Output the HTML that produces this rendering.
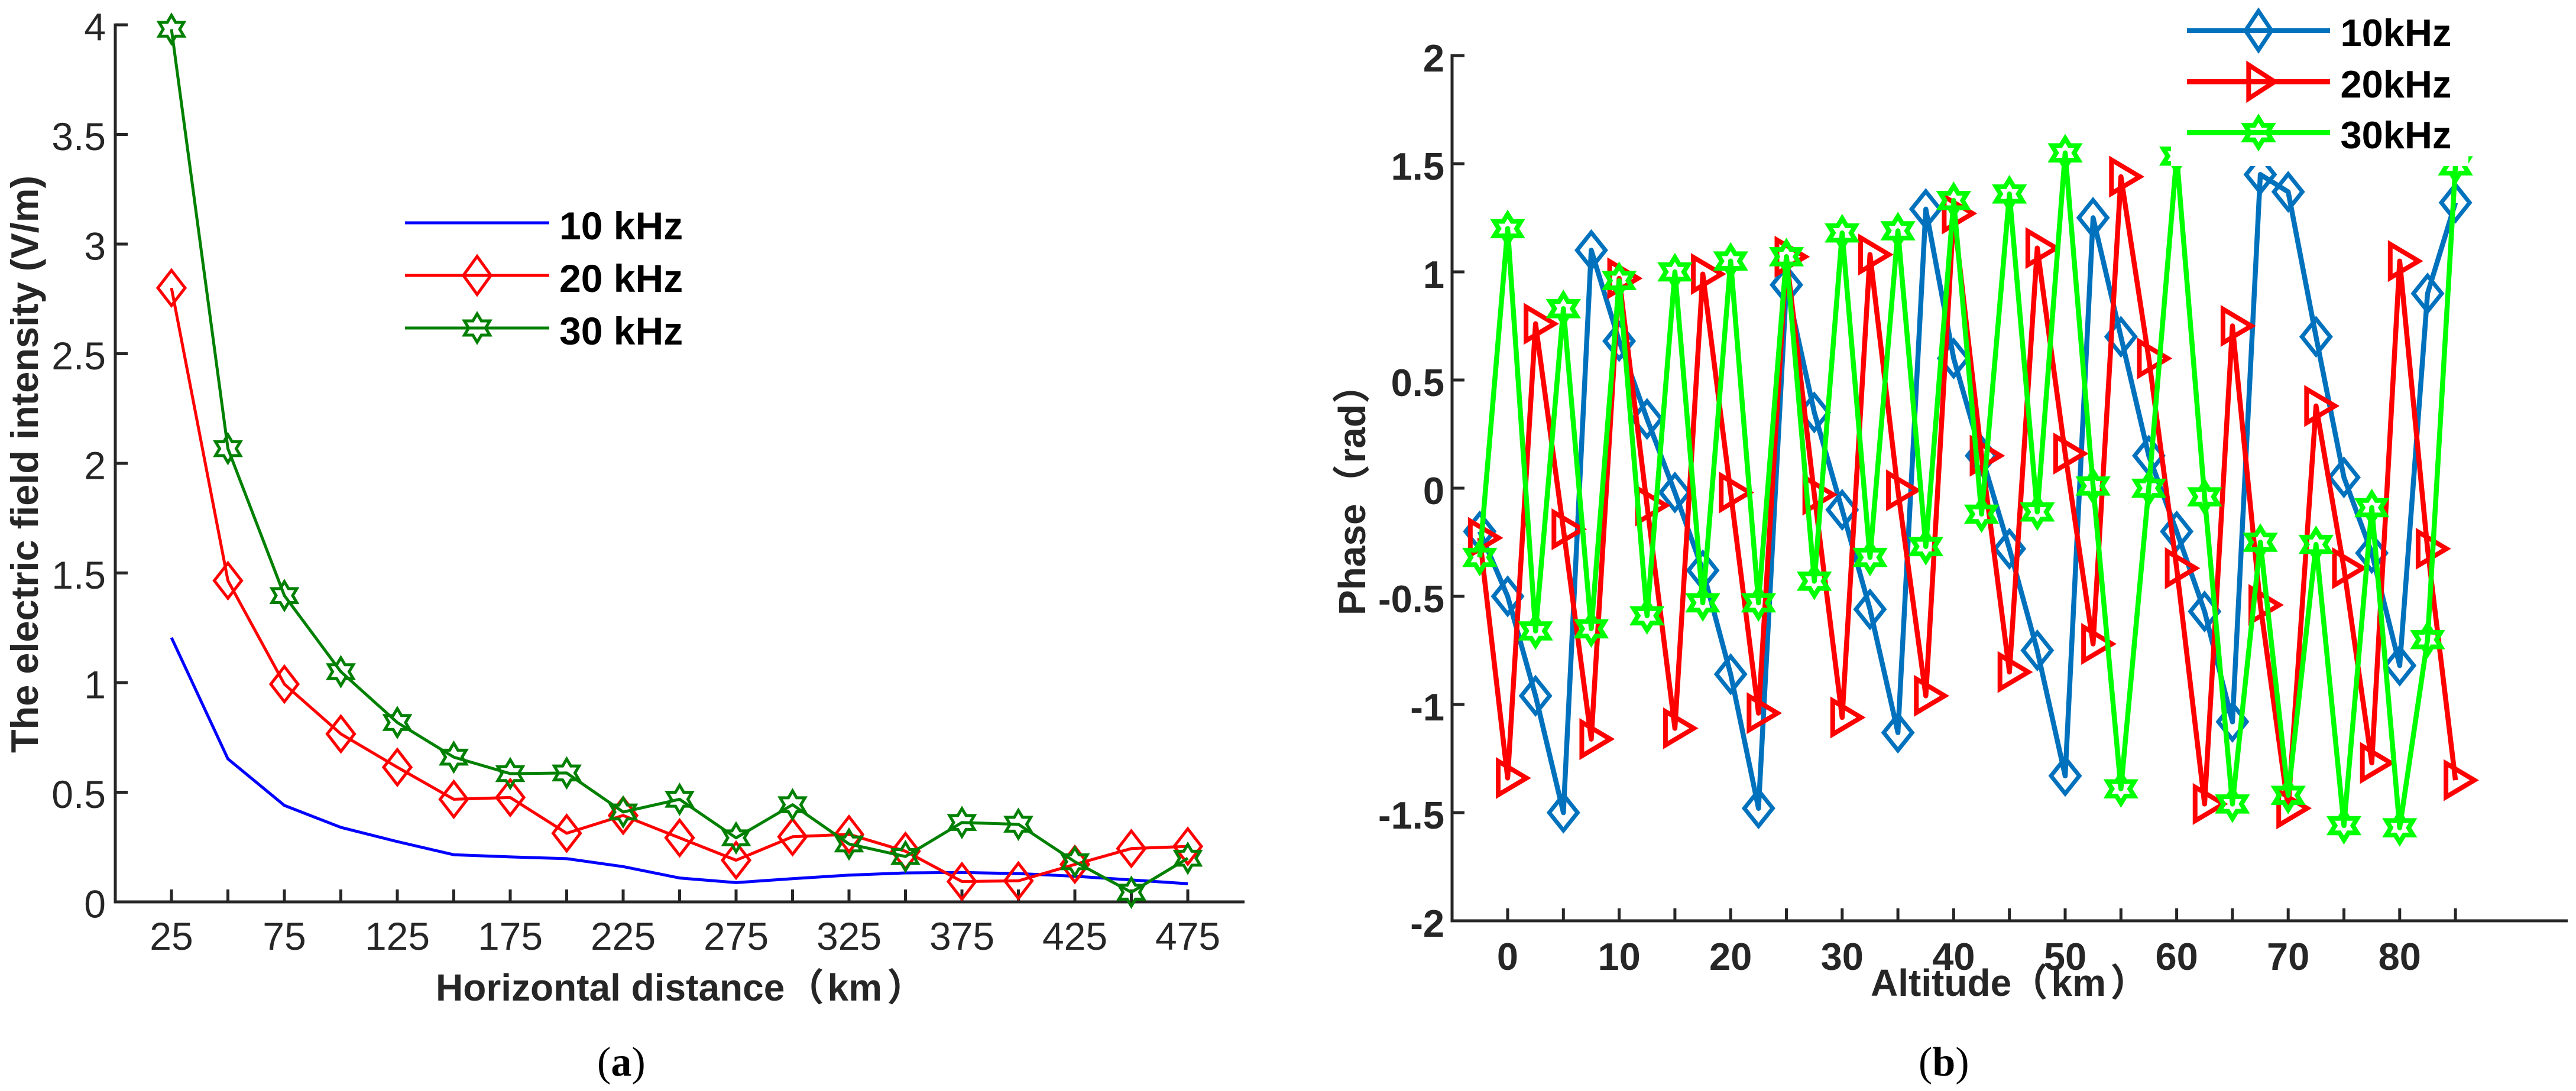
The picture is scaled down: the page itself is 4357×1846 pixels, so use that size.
<!DOCTYPE html>
<html lang="en">
<head>
<meta charset="utf-8">
<title>Electric field intensity and phase charts</title>
<style>
html,body{margin:0;padding:0;background:#fff;}
body{width:4357px;height:1846px;overflow:hidden;}
svg{display:block;}
text{font-family:"Liberation Sans","Noto Sans CJK SC",sans-serif;}
.tick{font-size:66px;fill:#262626;}
.tickb{font-size:65px;font-weight:bold;fill:#262626;}
.title{font-size:64px;font-weight:bold;fill:#262626;}
.legenda{font-size:66px;font-weight:bold;fill:#000;}
.legendb{font-size:65px;font-weight:bold;fill:#000;}
.cap{font-family:"Liberation Serif",serif;font-size:70px;fill:#000;}
</style>
</head>
<body>
<svg id="figure" xmlns="http://www.w3.org/2000/svg" width="4357" height="1846" viewBox="0 0 4357 1846">
  <rect x="0" y="0" width="4357" height="1846" fill="#fff"/>
  <g id="panelA"></g>
  <g id="panelB"></g>
  <text class="title" y="1693"><tspan x="737">Horizontal distance</tspan><tspan x="1330">（</tspan><tspan x="1399.5">km</tspan><tspan x="1500">）</tspan></text>
  <text class="title" style="font-size:65px" transform="translate(64,1274) rotate(-90)" textLength="977" lengthAdjust="spacingAndGlyphs">The electric field intensity (V/m)</text>
  <text class="title" y="1685"><tspan x="3164">Altitude</tspan><tspan x="3400">（</tspan><tspan x="3469.5">km</tspan><tspan x="3569">）</tspan></text>
  <text class="title" transform="translate(2309,1041) rotate(-90)"><tspan x="0">Phase</tspan><tspan x="191">（</tspan><tspan x="257.5">rad</tspan><tspan x="358">）</tspan></text>
  <text class="cap" x="1010" y="1820">(<tspan font-weight="bold">a</tspan>)</text>
  <text class="cap" x="3245" y="1820">(<tspan font-weight="bold">b</tspan>)</text>
</svg>
<script>
// ---------- Panel (a) data ----------
const distanceKm = [25,50,75,100,125,150,175,200,225,250,275,300,325,350,375,400,425,450,475];
const field10kHz = [1.205,0.652,0.44,0.34,0.275,0.215,0.205,0.197,0.161,0.109,0.088,0.106,0.122,0.132,0.134,0.129,0.117,0.1,0.083];
const field20kHz = [2.8,1.465,0.993,0.766,0.614,0.468,0.476,0.313,0.394,0.292,0.19,0.297,0.308,0.231,0.093,0.096,0.171,0.243,0.253];
const field30kHz = [3.98,2.067,1.397,1.05,0.818,0.66,0.585,0.588,0.41,0.468,0.292,0.443,0.264,0.207,0.362,0.354,0.183,0.044,0.199];
const ticksXA = [25,50,75,100,125,150,175,200,225,250,275,300,325,350,375,400,425,450,475];
const labelsXA = [25,75,125,175,225,275,325,375,425,475];
const ticksYA = [0,0.5,1,1.5,2,2.5,3,3.5,4];
const legendA = ["10 kHz","20 kHz","30 kHz"];

// ---------- Panel (b) data ----------
const altitudeKm = [-2.5,0,2.5,5,7.5,10,12.5,15,17.5,20,22.5,25,27.5,30,32.5,35,37.5,40,42.5,45,47.5,50,52.5,55,57.5,60,62.5,65,67.5,70,72.5,75,77.5,80,82.5,85];
const phase10kHz = [-0.2,-0.5,-0.96,-1.5,1.1,0.68,0.32,-0.02,-0.38,-0.86,-1.48,0.94,0.35,-0.1,-0.56,-1.13,1.29,0.6,0.15,-0.28,-0.75,-1.33,1.25,0.7,0.15,-0.2,-0.57,-1.08,1.45,1.37,0.7,0.05,-0.3,-0.82,0.9,1.32];
const phase20kHz = [-0.23,-1.34,0.76,-0.19,-1.16,0.97,-0.08,-1.11,0.99,-0.02,-1.04,1.07,-0.03,-1.06,1.08,-0.01,-0.96,1.27,0.15,-0.85,1.11,0.16,-0.72,1.44,0.6,-0.37,-1.46,0.75,-0.54,-1.48,0.38,-0.37,-1.27,1.05,-0.28,-1.35];
const phase30kHz = [-0.32,1.2,-0.66,0.83,-0.65,0.96,-0.59,1.0,-0.53,1.05,-0.53,1.07,-0.43,1.18,-0.32,1.19,-0.27,1.33,-0.12,1.36,-0.11,1.55,0.01,-1.39,0,1.535,-0.04,-1.46,-0.25,-1.42,-0.26,-1.56,-0.09,-1.57,-0.7,1.49];
const ticksXB = [0,5,10,15,20,25,30,35,40,45,50,55,60,65,70,75,80,85];
const labelsXB = [0,10,20,30,40,50,60,70,80];
const ticksYB = [-2,-1.5,-1,-0.5,0,0.5,1,1.5,2];
const legendB = ["10kHz","20kHz","30kHz"];

const NS = "http://www.w3.org/2000/svg";
const AX = "#262626";

// axis functions
function xA(v){ return 194.5 + v * 3.82; }
function yA(v){ return 1526 - v * 371; }
function xB(v){ return 2550 + v * 18.86; }
function yB(v){ return 826 - v * 366; }

function make(tag, parent, attrs){
  const el = document.createElementNS(NS, tag);
  for (const k in attrs) el.setAttribute(k, attrs[k]);
  parent.appendChild(el);
  return el;
}
function diamondPath(cx, cy, w, h){
  return "M"+(cx-w/2)+" "+cy+"L"+cx+" "+(cy-h/2)+"L"+(cx+w/2)+" "+cy+"L"+cx+" "+(cy+h/2)+"Z";
}
function trianglePath(cx, cy, w, h){
  return "M"+(cx-w/3)+" "+(cy-h/2)+"L"+(cx+w*2/3)+" "+cy+"L"+(cx-w/3)+" "+(cy+h/2)+"Z";
}
function starPath(cx, cy, w, h){
  let d = "";
  for (let i = 0; i < 12; i++){
    const a = Math.PI * (90 + 30 * i) / 180;
    const r = i % 2 === 0 ? 1 : 0.5774;
    const px = cx + Math.cos(a) * r * w / 1.732;
    const py = cy - Math.sin(a) * r * h / 2;
    d += (i ? "L" : "M") + px.toFixed(1) + " " + py.toFixed(1);
  }
  return d + "Z";
}
function linePath(xs, ys, fx, fy){
  return xs.map((x, i) => (i ? "L" : "M") + fx(x).toFixed(1) + " " + fy(ys[i]).toFixed(1)).join("");
}

function drawAxes(g, left, right, top, bottom, sw){
  const yAxis = make("line", g, {x1:left,y1:top-2.5,x2:left,y2:bottom+sw/2,stroke:AX,"stroke-width":sw});
  
  
  const xAxis = make("line", g, {x1:left-sw/2,y1:bottom,x2:right,y2:bottom,stroke:AX,"stroke-width":sw});
  
  
}
function xTicks(g, ticks, labels, fx, bottom, tickLen, baseline, cls){
  ticks.forEach(v => {
    const t = make("line", g, {x1:fx(v),y1:bottom,x2:fx(v),y2:bottom-tickLen,stroke:AX,"stroke-width":5});
    
    
  });
  labels.forEach(v => {
    const t = make("text", g, {x:fx(v),y:baseline,"text-anchor":"middle","class":cls});
    
    
    t.textContent = String(v);
  });
}
function yTicks(g, ticks, fy, left, tickLen, labelX, offset, cls){
  ticks.forEach(v => {
    const t = make("line", g, {x1:left,y1:fy(v),x2:left+tickLen,y2:fy(v),stroke:AX,"stroke-width":5});
    
    
    const l = make("text", g, {x:labelX,y:fy(v)+offset,"text-anchor":"end","class":cls});
    
    
    l.textContent = String(v);
  });
}
function series(g, xs, ys, fx, fy, color, lw, msw, shape, mw, mh){
  const line = make("path", g, {d:linePath(xs, ys, fx, fy),fill:"none",stroke:color,"stroke-width":lw,"stroke-linejoin":"round"});
  
  
  if (!shape) return;
  xs.forEach((x, i) => {
    const m = make("path", g, {d:shape(fx(x), fy(ys[i]), mw, mh),fill:"none",stroke:color,"stroke-width":msw,"stroke-linejoin":"miter"});
    
    
  });
}
function legendEntry(g, x1, x2, y, mx, color, lw, msw, shape, mw, mh, label, tx, ty, cls){
  const l = make("line", g, {x1:x1,y1:y,x2:x2,y2:y,stroke:color,"stroke-width":lw});
  
  
  if (shape){
    const m = make("path", g, {d:shape(mx, y, mw, mh),fill:"none",stroke:color,"stroke-width":msw});
    
    
  }
  const t = make("text", g, {x:tx,y:ty,"class":cls});
  
  
  t.textContent = label;
}

// ---------- Draw panel (a) ----------
const gA = document.getElementById("panelA");
drawAxes(gA, 195, 2105, 42.3, 1526, 5);
xTicks(gA, ticksXA, labelsXA, xA, 1526, 21, 1607, "tick");
yTicks(gA, ticksYA, yA, 195, 21, 179, 26.5, "tick");
series(gA, distanceKm, field10kHz, xA, yA, "#0000ff", 5, 5, null);
series(gA, distanceKm, field20kHz, xA, yA, "#ff0000", 5, 5, diamondPath, 46, 59.5);
series(gA, distanceKm, field30kHz, xA, yA, "#008000", 5, 5, starPath, 42, 47);
legendEntry(gA, 685, 929, 377, 807, "#0000ff", 5, 5, null, 0, 0, legendA[0], 946, 405, "legenda");
legendEntry(gA, 685, 929, 466, 807, "#ff0000", 5, 5, diamondPath, 46.5, 64.5, legendA[1], 946, 494, "legenda");
legendEntry(gA, 685, 929, 555, 807, "#008000", 5, 5, starPath, 43, 48, legendA[2], 946, 583, "legenda");

// ---------- Draw panel (b) ----------
const gB = document.getElementById("panelB");
drawAxes(gB, 2456, 4343, 94, 1558, 5);
xTicks(gB, ticksXB, labelsXB, xB, 1558, 21, 1641, "tickb");
yTicks(gB, ticksYB, yB, 2456, 21, 2443, 27, "tickb");
series(gB, altitudeKm, phase10kHz, xB, yB, "#0072bd", 8.5, 7, diamondPath, 48, 60);
series(gB, altitudeKm, phase20kHz, xB, yB, "#ff0000", 8.5, 8, trianglePath, 48, 57);
series(gB, altitudeKm, phase30kHz, xB, yB, "#00ff00", 8.5, 8, starPath, 45, 49);
const legendBox = make("rect", gB, {x:3672,y:0,width:503,height:281,fill:"#ffffff"});


legendEntry(gB, 3699, 3941, 51.7, 3820, "#0072bd", 8.5, 7, diamondPath, 44, 66, legendB[0], 3958.5, 78, "legendb");
legendEntry(gB, 3699, 3941, 138.3, 3818, "#ff0000", 8.5, 8, trianglePath, 44, 57, legendB[1], 3958.5, 165, "legendb");
legendEntry(gB, 3699, 3941, 224.3, 3820, "#00ff00", 8.5, 8, starPath, 45, 49, legendB[2], 3958.5, 251, "legendb");
</script>
</body>
</html>
